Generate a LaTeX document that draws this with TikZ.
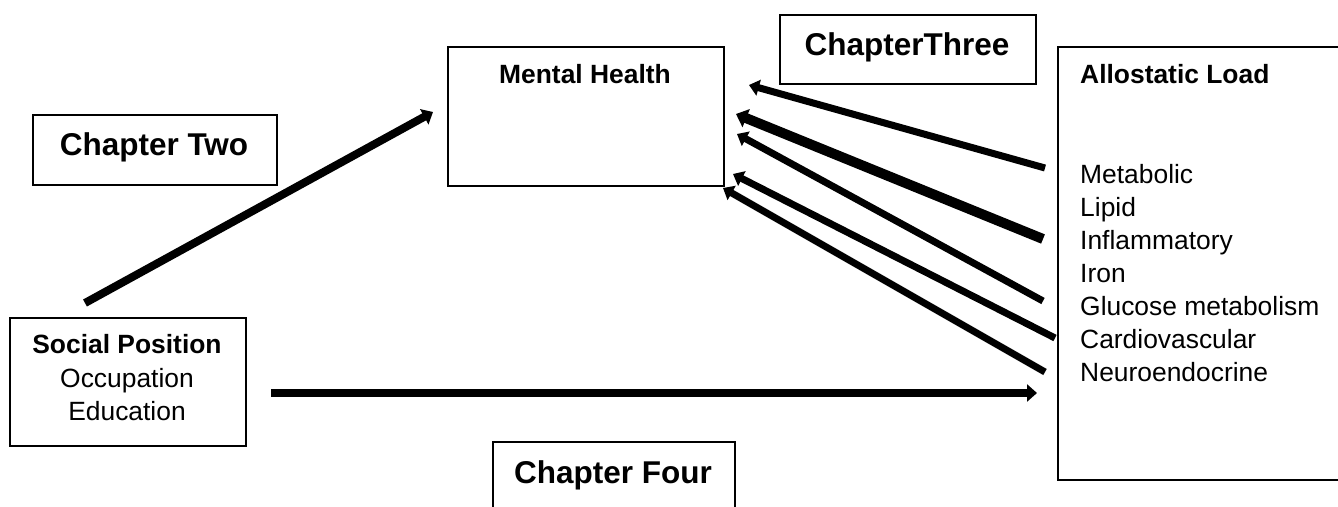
\documentclass[tikz,border=0pt]{standalone}
\usepackage{fontspec}
\setmainfont{Liberation Sans}
\usetikzlibrary{arrows.meta}
\begin{document}
\begin{tikzpicture}[x=1pt,y=-1pt,
  box/.style={draw, line width=2pt, inner sep=0pt, anchor=north west},
  body/.style={font=\fontsize{26.4}{33}\selectfont, inner sep=0pt},
  bodyb/.style={font=\fontsize{26.4}{33}\selectfont\bfseries, inner sep=0pt},
  chap/.style={font=\fontsize{31.5}{38}\selectfont\bfseries, inner sep=0pt, anchor=base},
  arr/.style={-{Triangle[length=10pt,width=17pt]}, line width=8pt},
  arrthin/.style={-{Triangle[length=10pt,width=16pt]}, line width=7pt},
  arrthick/.style={-{Triangle[length=11pt,width=19pt]}, line width=10pt}]
\useasboundingbox (0,0) rectangle (1338,506);

% boxes
\node[box, minimum width=276pt, minimum height=139pt] (mh) at (447,46) {};
\node[box, minimum width=244pt, minimum height=70pt] (c2) at (32,114) {};
\node[box, minimum width=256pt, minimum height=69pt] (c3) at (779,14) {};
\node[box, minimum width=300pt, minimum height=433pt] (al) at (1057,46) {};
\node[box, minimum width=236pt, minimum height=128pt] (sp) at (9,317) {};
\node[box, minimum width=242pt, minimum height=90pt] (c4) at (492,441) {};

% texts
\node[bodyb, anchor=base] (mht) at (585,83) {Mental Health};
\node[chap] (c2t) at (154,155) {Chapter Two};
\node[chap] (c3t) at (907,55) {ChapterThree};
\node[chap] (c4t) at (613,483) {Chapter Four};

\node[bodyb, anchor=base west] (alt) at (1080,83) {Allostatic Load};
\node[body, anchor=base west] (l1) at (1080,183) {Metabolic};
\node[body, anchor=base west] (l2) at (1080,216) {Lipid};
\node[body, anchor=base west] (l3) at (1080,249) {Inflammatory};
\node[body, anchor=base west] (l4) at (1080,282) {Iron};
\node[body, anchor=base west] (l5) at (1080,315) {Glucose metabolism};
\node[body, anchor=base west] (l6) at (1080,348) {Cardiovascular};
\node[body, anchor=base west] (l7) at (1080,381) {Neuroendocrine};

\node[bodyb, anchor=base] (spt) at (127,353) {Social Position};
\node[body, anchor=base] (sp1) at (127,387) {Occupation};
\node[body, anchor=base] (sp2) at (127,420) {Education};

% connector end points
\coordinate (s1) at (85,303);
\coordinate (e1) at (433,112);
\coordinate (s2) at (271,393);
\coordinate (e2) at (1037,393);
\coordinate (b1s) at (1045,168);
\coordinate (b1e) at (749,85);
\coordinate (b2s) at (1043,239);
\coordinate (b2e) at (736,114);
\coordinate (b3s) at (1043,301);
\coordinate (b3e) at (737,134);
\coordinate (b4s) at (1055,338);
\coordinate (b4e) at (733,174);
\coordinate (b5s) at (1045,372);
\coordinate (b5e) at (723,188);

\draw[arr] (s1) -- (e1);
\draw[arr] (s2) -- (e2);
\draw[arrthin] (b1s) -- (b1e);
\draw[arrthick] (b2s) -- (b2e);
\draw[arrthin] (b3s) -- (b3e);
\draw[arrthin] (b4s) -- (b4e);
\draw[arrthin] (b5s) -- (b5e);
\end{tikzpicture}
\end{document}
